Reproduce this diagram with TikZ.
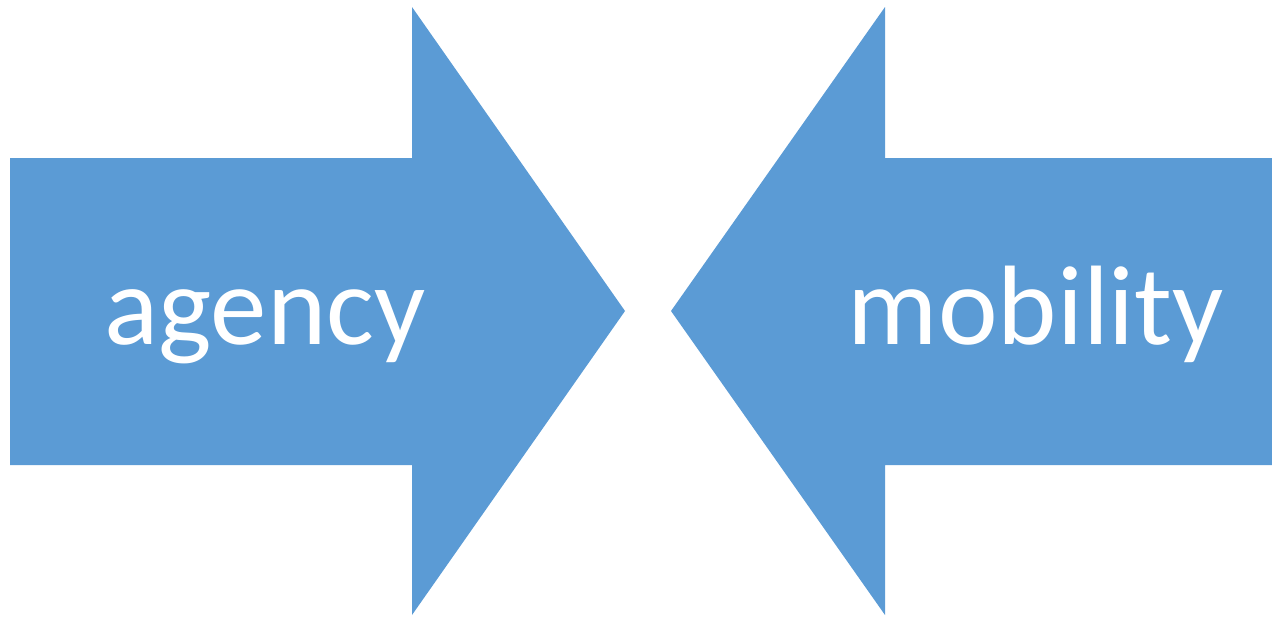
\documentclass[tikz,border=0pt]{standalone}
\usepackage{fontspec}
\setmainfont{Carlito}
\usepackage{tikz}

\definecolor{arrowblue}{HTML}{5B9BD5}

\begin{document}
\begin{tikzpicture}[x=1pt,y=-1pt,
  block arrow/.style={fill=arrowblue,draw=none},
  arrow label/.style={text=white,inner sep=0pt,anchor=base,font=\fontsize{113}{113}\selectfont}]

  \useasboundingbox (0,0) rectangle (1272,616);

  % left arrow, pointing right
  \fill[block arrow] (10,158) -- (412,158) -- (412,7) -- (625,311)
     -- (412,615) -- (412,465) -- (10,465) -- cycle;
  % right arrow, pointing left
  \fill[block arrow] (1272,158) -- (885,158) -- (885,7) -- (671,311)
     -- (885,615) -- (885,465) -- (1272,465) -- cycle;

  \node[arrow label] (agency) at (265,344) {agency};
  \node[arrow label] (mobility) at (1036,344) {mobility};

\end{tikzpicture}
\end{document}
